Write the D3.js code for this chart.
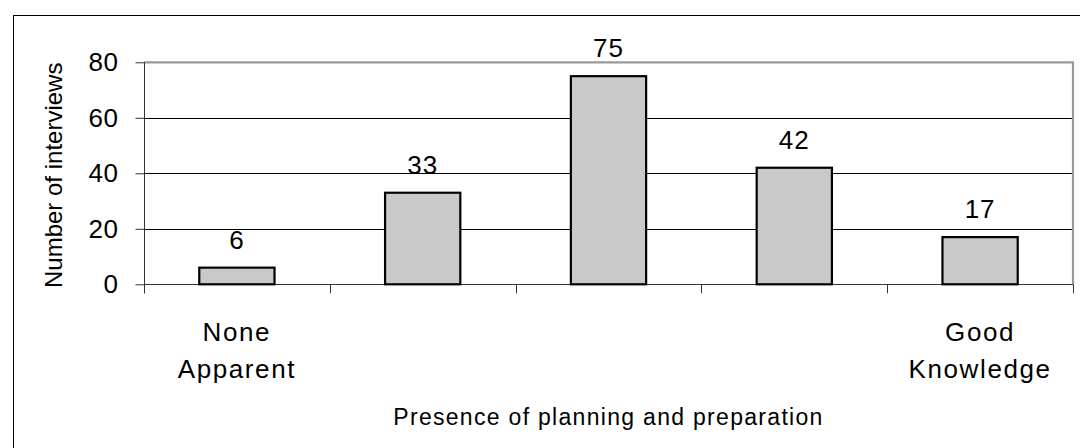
<!DOCTYPE html>
<html lang="en">
<head>
    <meta charset="UTF-8" />
    <title>Presence of planning and preparation</title>
    <script src="https://d3js.org/d3.v7.min.js"></script>
    <style>
        body {
            margin: 0;
            background-color: #ffffff;
        }
        svg text {
            font-family: 'Liberation Sans', Arial, sans-serif;
            fill: #000;
        }
    </style>
</head>
<body>
    <svg id="chart"></svg>

    <script>
        // Data
        const levels = ["1", "2", "3", "4", "5"];
        const levelLabels = [["None", "Apparent"], [], [], [], ["Good", "Knowledge"]];
        const interviews = [6, 33, 75, 42, 17];
        const yTicks = [0, 20, 40, 60, 80];

        const W = 1080, H = 448;
        const plot = { left: 144, right: 1073, top: 62.3, bottom: 284.3 };

        const svg = d3.select("#chart")
            .attr("width", W)
            .attr("height", H);

        // outer frame (right and bottom sides run off the picture)
        svg.append("rect")
            .attr("x", 13.5)
            .attr("y", 15.5)
            .attr("width", W)
            .attr("height", H)
            .attr("fill", "#fff")
            .attr("stroke", "#000")
            .attr("stroke-width", 1);

        const x = d3.scaleBand()
            .domain(levels)
            .range([plot.left, plot.right]);

        const y = d3.scaleLinear()
            .domain([0, 80])
            .range([plot.bottom, plot.top]);

        const barW = x.bandwidth() * 0.405;

        // gridlines
        svg.append("g")
            .selectAll("line")
            .data(yTicks.filter(d => d > 0 && d < 80))
            .join("line")
            .attr("x1", plot.left)
            .attr("x2", plot.right)
            .attr("y1", d => Math.round(y(d)) + 0.5)
            .attr("y2", d => Math.round(y(d)) + 0.5)
            .attr("stroke", "#000")
            .attr("stroke-width", 1);

        // plot area border, top and right in grey
        svg.append("path")
            .attr("d", `M${plot.left},${y(80)}H${plot.right}V${plot.bottom}`)
            .attr("fill", "none")
            .attr("stroke", "#999")
            .attr("stroke-width", 2.2);

        // y axis
        const yAxis = svg.append("g")
            .attr("transform", `translate(${plot.left + 0.5},0)`)
            .call(d3.axisLeft(y).tickValues(yTicks).tickSize(9).tickPadding(17));
        yAxis.select(".domain").attr("stroke", "#333").attr("d", `M0,${y(80)}V${plot.bottom + 9}`);
        yAxis.selectAll(".tick line").attr("stroke", "#333");
        yAxis.selectAll(".tick text")
            .attr("font-size", 26)
            .attr("letter-spacing", 0.5)
            .attr("font-family", "'Liberation Sans', Arial, sans-serif")
            .attr("fill", "#000");

        // x axis line and ticks at category boundaries
        const bounds = levels.map(d => x(d)).concat([plot.right]);
        svg.append("line")
            .attr("x1", plot.left)
            .attr("x2", plot.right)
            .attr("y1", Math.round(plot.bottom) + 0.5)
            .attr("y2", Math.round(plot.bottom) + 0.5)
            .attr("stroke", "#333");
        svg.append("g")
            .selectAll("line")
            .data(bounds)
            .join("line")
            .attr("x1", d => Math.round(d) + 0.5)
            .attr("x2", d => Math.round(d) + 0.5)
            .attr("y1", plot.bottom)
            .attr("y2", plot.bottom + 9)
            .attr("stroke", "#333");

        // bars
        svg.append("g")
            .selectAll("rect")
            .data(interviews)
            .join("rect")
            .attr("x", (d, i) => x(levels[i]) + (x.bandwidth() - barW) / 2)
            .attr("y", d => y(d))
            .attr("width", barW)
            .attr("height", d => y(0) - y(d))
            .attr("fill", "#c9c9c9")
            .attr("stroke", "#000")
            .attr("stroke-width", 2.2);

        // value labels
        svg.append("g")
            .selectAll("text")
            .data(interviews)
            .join("text")
            .attr("x", (d, i) => x(levels[i]) + x.bandwidth() / 2)
            .attr("y", d => y(d) - 19)
            .attr("text-anchor", "middle")
            .attr("font-size", 26)
            .attr("letter-spacing", 1)
            .text(d => d);

        // category labels
        svg.append("g")
            .selectAll("text")
            .data(levelLabels)
            .join("text")
            .attr("x", (d, i) => x(levels[i]) + x.bandwidth() / 2)
            .attr("y", 341)
            .attr("text-anchor", "middle")
            .attr("font-size", 26)
            .attr("letter-spacing", 1.6)
            .selectAll("tspan")
            .data(d => d)
            .join("tspan")
            .attr("x", function () { return d3.select(this.parentNode).attr("x"); })
            .attr("dy", (d, i) => i === 0 ? 0 : 37)
            .text(d => d);

        // axis titles
        svg.append("text")
            .attr("x", (plot.left + plot.right) / 2)
            .attr("y", 425)
            .attr("text-anchor", "middle")
            .attr("font-size", 23)
            .attr("letter-spacing", 1.3)
            .text("Presence of planning and preparation");

        svg.append("text")
            .attr("transform", `translate(62,${(plot.top + plot.bottom) / 2 + 2}) rotate(-90)`)
            .attr("text-anchor", "middle")
            .attr("font-size", 24)
            .text("Number of interviews");
    </script>
</body>
</html>
